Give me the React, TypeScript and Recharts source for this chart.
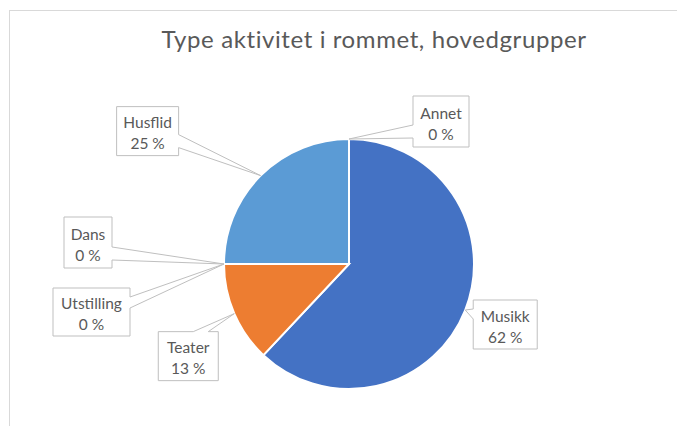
import React from "react";
import { PieChart, Pie, Cell } from "recharts";

const categories = ["Musikk", "Teater", "Utstilling", "Dans", "Husflid", "Annet"];
const shares = [62, 13, 0, 0, 25, 0];
const sliceColors = ["#4472C4", "#ED7D31", "#A5A5A5", "#FFC000", "#5B9BD5", "#70AD47"];
const titleText = "Type aktivitet i rommet, hovedgrupper";

const data = categories.map((name, i) => ({ name, value: shares[i] }));

// callout box placement relative to the anchor point on the pie edge
type Callout = { dx: number; dy: number; w: number; h: number; edge: "left" | "right" | "top"; a: number; b: number };
const calloutLayout: Callout[] = [
  { dx: 8, dy: -10, w: 64, h: 49, edge: "left", a: 9, b: 19 },
  { dx: -76, dy: 18, w: 60, h: 49, edge: "top", a: 35, b: 50 },
  { dx: -171, dy: 24, w: 77, h: 48, edge: "right", a: 9, b: 20 },
  { dx: -160, dy: -47, w: 48, h: 51, edge: "right", a: 30, b: 43 },
  { dx: -144, dy: -69, w: 62, h: 49, edge: "right", a: 28, b: 41 },
  { dx: 64, dy: -43, w: 56, h: 51, edge: "left", a: 29, b: 42 },
];

const RAD = Math.PI / 180;
const FONT = "Lato, 'Open Sans', sans-serif";

const renderCallout = (props: any) => {
  const { cx, cy, midAngle, outerRadius, index, name, percent } = props;
  const L = calloutLayout[index];
  if (!L) return null;
  const px = cx + outerRadius * Math.cos(-midAngle * RAD);
  const py = cy + outerRadius * Math.sin(-midAngle * RAD);
  const x = px + L.dx;
  const y = py + L.dy;
  const { w, h, a, b } = L;
  let d = "";
  if (L.edge === "right") {
    d = `M${x},${y} H${x + w} V${y + a} L${px},${py} L${x + w},${y + b} V${y + h} H${x} Z`;
  } else if (L.edge === "left") {
    d = `M${x},${y} H${x + w} V${y + h} H${x} V${y + b} L${px},${py} L${x},${y + a} Z`;
  } else {
    d = `M${x},${y} H${x + a} L${px},${py} L${x + b},${y} H${x + w} V${y + h} H${x} Z`;
  }
  const pct = `${Math.round(percent * 100)} %`;
  return (
    <g key={`callout-${index}`}>
      <path d={d} fill="#FFFFFF" stroke="#BFBFBF" strokeWidth={1} />
      <text x={x + w / 2} y={y + h / 2 - 3} textAnchor="middle" fill="#595959" fontSize={15.5} fontFamily={FONT}>
        {name}
      </text>
      <text x={x + w / 2} y={y + h / 2 + 18} textAnchor="middle" fill="#595959" fontSize={15.5} fontFamily={FONT}>
        {pct}
      </text>
    </g>
  );
};

export default function App() {
  return (
    <div style={{ position: "absolute", left: 0, top: 0, width: 677, height: 426, overflow: "hidden", background: "#FFFFFF" }}>
      <div
        style={{
          position: "absolute",
          left: 9,
          top: 10,
          width: 720,
          height: 460,
          border: "1.5px solid #D9D9D9",
          boxSizing: "border-box",
        }}
      />
      <div
        style={{
          position: "absolute",
          left: 374,
          top: 24,
          transform: "translateX(-50%)",
          whiteSpace: "nowrap",
          fontFamily: FONT,
          fontSize: 24,
          letterSpacing: 0.6,
          lineHeight: "30px",
          color: "#595959",
        }}
      >
        {titleText}
      </div>
      <div style={{ position: "absolute", left: 0, top: 0 }}>
        <PieChart width={677} height={426} margin={{ top: 0, right: 0, bottom: 0, left: 0 }}>
          <Pie
            data={data}
            dataKey="value"
            nameKey="name"
            cx={349}
            cy={264}
            outerRadius={125}
            startAngle={90}
            endAngle={-270}
            stroke="#FFFFFF"
            strokeWidth={2}
            label={renderCallout}
            labelLine={false}
            isAnimationActive={false}
          >
            {data.map((d, i) => (
              <Cell key={d.name} fill={sliceColors[i]} />
            ))}
          </Pie>
        </PieChart>
      </div>
    </div>
  );
}
